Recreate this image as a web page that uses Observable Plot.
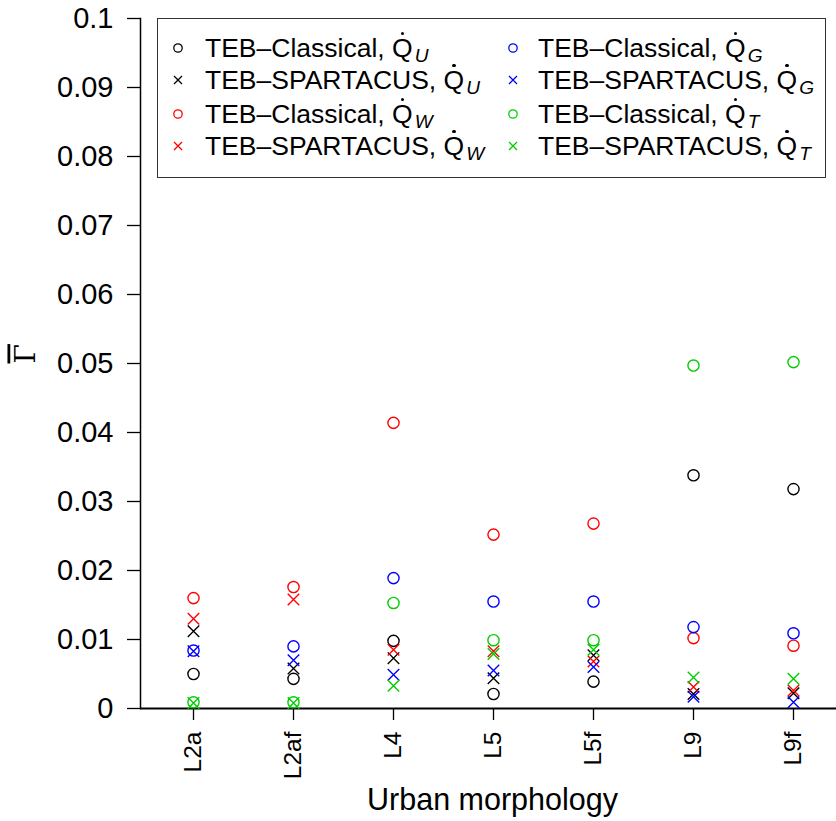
<!DOCTYPE html>
<html><head><meta charset="utf-8">
<script src="https://cdn.jsdelivr.net/npm/d3@7"></script>
<script src="https://cdn.jsdelivr.net/npm/@observablehq/plot@0.6"></script>
<style>
body{margin:0;background:#fff;font-family:"Liberation Sans",Arial,Helvetica,sans-serif;}
#wrap{position:relative;width:836px;height:821px;}
.legend{position:absolute;left:157px;top:18px;width:669px;height:160px;border:1.5px solid #333;box-sizing:border-box;background:#fff;}
.item{position:absolute;height:32px;display:flex;align-items:center;font-size:26.5px;line-height:1;white-space:nowrap;color:#000;}
.item svg{position:absolute;}
.q{position:relative;display:inline-block;line-height:1;}
.q::before{content:"";position:absolute;left:50%;top:-3px;width:3.4px;height:3.4px;margin-left:-1.7px;background:#000;border-radius:50%;}
.sub{display:inline-block;font-style:italic;font-size:0.72em;line-height:1;position:relative;top:0.3em;margin-left:2px;}
</style>
</head><body>
<div id="wrap"></div>
<script>
const categories = ["L2a","L2af","L4","L5","L5f","L9","L9f"];
const fluxes = ["U","W","G","T"];
const fluxColors = ["#000000","#FF0000","#0000FF","#00CD00"];
const models = ["TEB\u2013Classical","TEB\u2013SPARTACUS"];
const yTicks = [0,0.01,0.02,0.03,0.04,0.05,0.06,0.07,0.08,0.09,0.1];

const classicalU = [0.0050,0.0043,0.0098,0.0021,0.0039,0.0338,0.0318];
const spartacusU = [0.0112,0.0058,0.0073,0.0044,0.0077,0.0021,0.0022];
const classicalW = [0.0160,0.0176,0.0414,0.0252,0.0268,0.0102,0.0091];
const spartacusW = [0.0130,0.0158,0.0085,0.0083,0.0068,0.0031,0.0026];
const classicalG = [0.0084,0.0090,0.0189,0.0155,0.0155,0.0118,0.0109];
const spartacusG = [0.0083,0.0070,0.0049,0.0055,0.0060,0.0017,0.0009];
const classicalT = [0.0009,0.0009,0.0153,0.0099,0.0099,0.0497,0.0502];
const spartacusT = [0.0008,0.0008,0.0033,0.0079,0.0085,0.0045,0.0043];

const series = [
  {model: models[0], flux: "U", values: classicalU},
  {model: models[1], flux: "U", values: spartacusU},
  {model: models[0], flux: "W", values: classicalW},
  {model: models[1], flux: "W", values: spartacusW},
  {model: models[0], flux: "G", values: classicalG},
  {model: models[1], flux: "G", values: spartacusG},
  {model: models[0], flux: "T", values: classicalT},
  {model: models[1], flux: "T", values: spartacusT}
];
const rows = series.flatMap(s => s.values.map((v, i) => ({category: categories[i], value: v, model: s.model, flux: s.flux})));
const circles = rows.filter(d => d.model === models[0]);
const crosses = rows.filter(d => d.model === models[1]);

const chart = Plot.plot({
  width: 836, height: 821,
  marginLeft: 140, marginRight: 0, marginTop: 18, marginBottom: 113,
  style: {fontFamily: "Liberation Sans, Arial, sans-serif", fontSize: "26px", color: "#000", background: "#fff"},
  x: {type: "point", domain: categories, range: [190.7, 795.2], padding: 0},
  y: {domain: [0, 0.1]},
  color: {type: "ordinal", domain: fluxes, range: fluxColors},
  marks: [
    Plot.axisX({tickRotate: -90, tickSize: 12, tickPadding: 11, label: null, fontSize: 24.5, strokeWidth: 1.3}),
    Plot.axisY({ticks: yTicks, tickFormat: d => d === 0 ? "0" : String(+d.toFixed(2)), tickSize: 13, tickPadding: 14, label: null, fontSize: 29, strokeWidth: 1.3}),
    Plot.ruleY([0], {strokeWidth: 2}),
    Plot.frame({anchor: "left", strokeWidth: 1.5}),
    Plot.dot(circles, {x: "category", y: "value", stroke: "flux", symbol: "circle", r: 5.6, strokeWidth: 1.4}),
    Plot.dot(crosses, {x: "category", y: "value", stroke: "flux", symbol: "times", r: 5.3, strokeWidth: 1.4}),
    Plot.text(["\u0393"], {text: d => d, frameAnchor: "left", dx: -114, dy: 0, rotate: -90, fontSize: 28, fontFamily: "DejaVu Serif, Liberation Serif, serif"}),
    Plot.text(["Urban morphology"], {text: d => d, frameAnchor: "bottom", dy: 101, dx: 4, fontSize: 30.5})
  ]
});
chart.querySelectorAll("text").forEach(t => {
  if (t.textContent === "\u0393") t.setAttribute("text-decoration", "overline");
});
const wrap = document.getElementById("wrap");
wrap.appendChild(chart);

// legend
const legend = document.createElement("div");
legend.className = "legend";
const legendOrder = [
  [series[0], series[1], series[2], series[3]],
  [series[4], series[5], series[6], series[7]]
];
const colX = [20, 355];
const textX = [47, 380];
const rowY = [13, 45, 79, 111];
legendOrder.forEach((col, c) => col.forEach((s, r) => {
  const item = document.createElement("div");
  item.className = "item";
  item.style.left = (colX[c] - 10) + "px";
  item.style.top = rowY[r] + "px";
  const color = fluxColors[fluxes.indexOf(s.flux)];
  const sym = s.model === models[0]
    ? `<circle cx="10" cy="10" r="4.2" fill="none" stroke="${color}" stroke-width="1.3"/>`
    : `<path d="M6,6L14,14M6,14L14,6" stroke="${color}" stroke-width="1.3"/>`;
  item.innerHTML = `<svg width="20" height="20" style="left:0;top:6px">${sym}</svg>` +
    `<span style="margin-left:${textX[c] - colX[c] + 10}px">${s.model}, <span class="q">Q</span><span class="sub">${s.flux}</span></span>`;
  legend.appendChild(item);
}));
wrap.appendChild(legend);
</script>
</body></html>
